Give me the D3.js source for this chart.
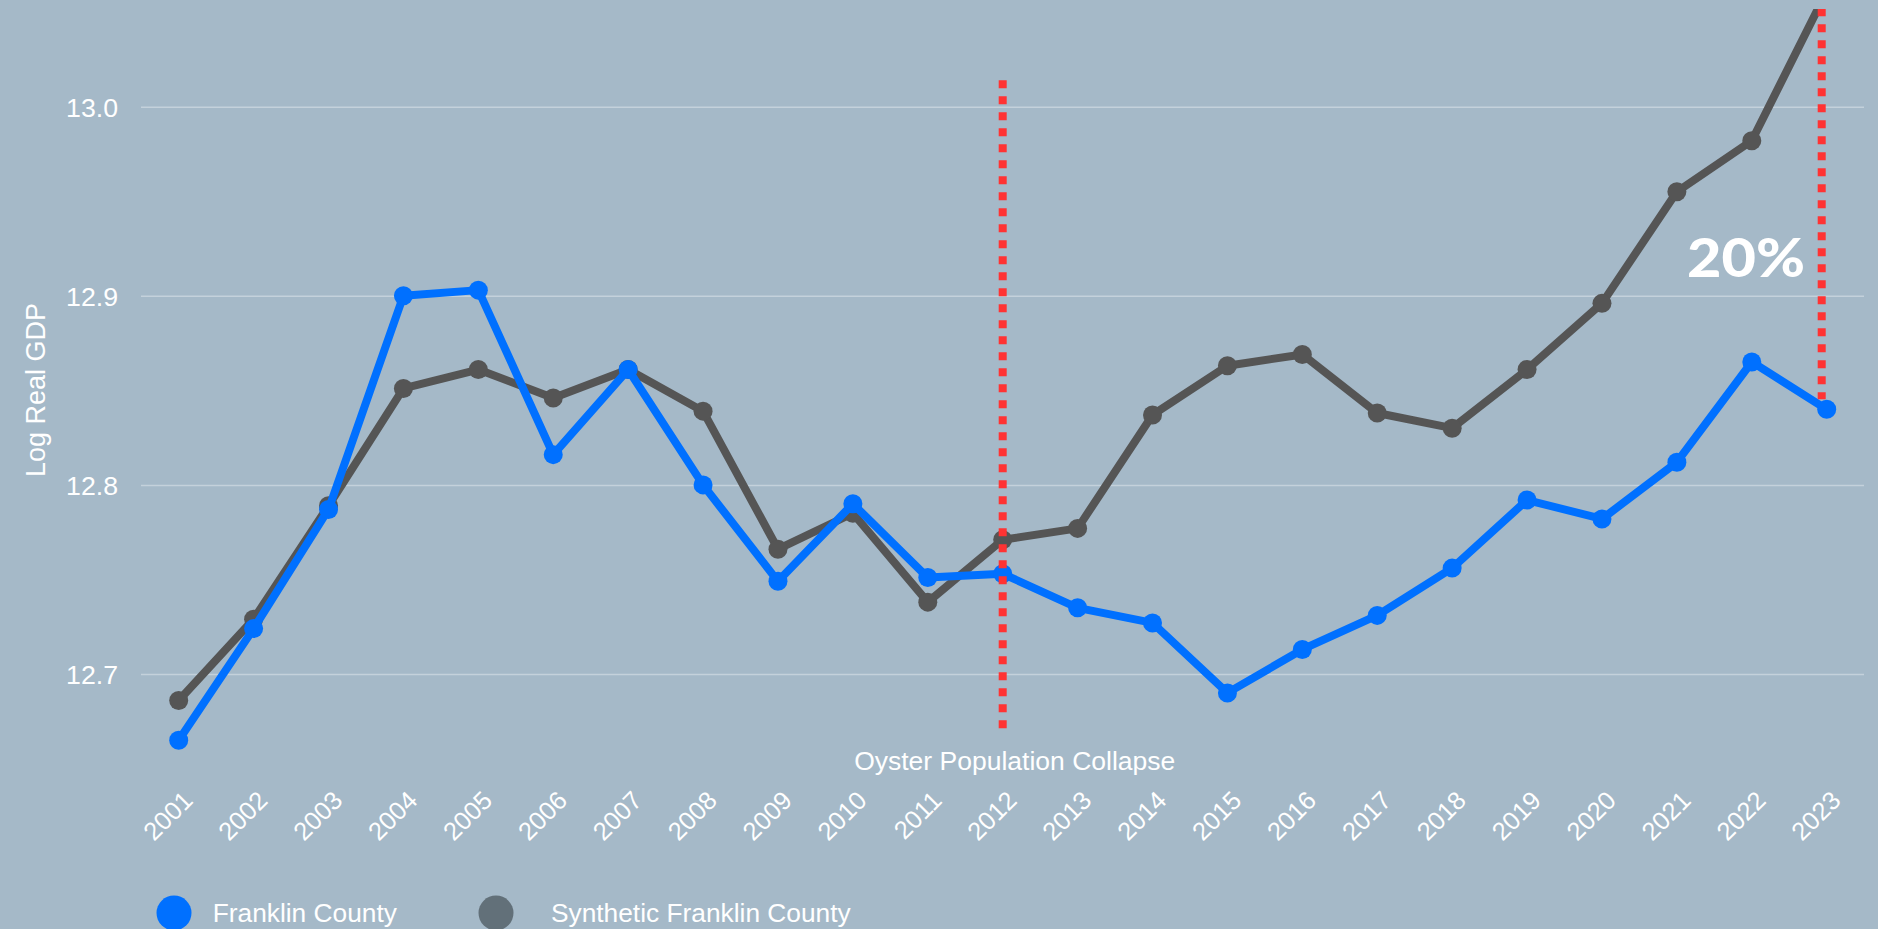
<!DOCTYPE html>
<html>
<head>
<meta charset="utf-8">
<script src="https://cdn.jsdelivr.net/npm/d3@7"></script>
<style>
  html, body { margin: 0; padding: 0; background: #a5b9c8; }
  svg { display: block; }
  text { font-family: "Liberation Sans", Arial, sans-serif; fill: #ffffff; }
</style>
</head>
<body>
<div class="chart"></div>
<script>
// data
var years = ["2001","2002","2003","2004","2005","2006","2007","2008","2009","2010","2011","2012",
             "2013","2014","2015","2016","2017","2018","2019","2020","2021","2022","2023"];
var franklin = [12.665, 12.724, 12.787, 12.900, 12.903, 12.816, 12.861, 12.800, 12.749, 12.790, 12.751, 12.753,
                12.735, 12.727, 12.690, 12.713, 12.731, 12.756, 12.792, 12.782, 12.812, 12.865, 12.840];
var synthetic = [12.686, 12.729, 12.789, 12.851, 12.861, 12.846, 12.861, 12.839, 12.766, 12.785, 12.738, 12.771,
                 12.777, 12.837, 12.863, 12.869, 12.838, 12.830, 12.861, 12.896, 12.955, 12.982, 13.061];
var yTicks = [12.7, 12.8, 12.9, 13.0];
var seriesNames = ["Franklin County", "Synthetic Franklin County"];
var collapseYear = "2012";
var collapseRange = [12.671, 13.014];
var gapLabel = "20%";

var svgWidth = 1878;
var svgHeight = 929;

var svg = d3.select(".chart")
            .append("svg")
            .attr("width", svgWidth)
            .attr("height", svgHeight);

svg.append("rect")
   .attr("width", svgWidth)
   .attr("height", svgHeight)
   .attr("fill", "#a5b9c8");

var x = d3.scalePoint().domain(years).range([178.7, 1826.7]);
var y = d3.scaleLinear().domain([12.7, 13.0]).range([674, 106.7]);

// gridlines
svg.append("g")
   .attr("class", "grid")
   .attr("transform", "translate(141,0)")
   .call(d3.axisLeft(y).tickValues(yTicks).tickSize(-(1864 - 141)).tickFormat(""))
   .call(function(g) {
     g.select(".domain").remove();
     g.selectAll("line").attr("stroke", "#c4d1db").attr("stroke-width", 1.5);
   });

// y axis labels
svg.append("g")
   .attr("transform", "translate(141,0)")
   .call(d3.axisLeft(y).tickValues(yTicks).tickSize(0).tickPadding(23).tickFormat(d3.format(".1f")))
   .call(function(g) {
     g.select(".domain").remove();
     g.selectAll("text")
      .attr("fill", "#ffffff")
      .style("font-size", "26.7px")
      .style("font-family", "'Liberation Sans', Arial, sans-serif")
      .attr("dy", "0.36em");
   });

svg.append("text")
   .attr("transform", "translate(45,390) rotate(-90)")
   .attr("text-anchor", "middle")
   .style("font-size", "27px")
   .text("Log Real GDP");

// x axis labels
svg.append("g")
   .attr("transform", "translate(0,802)")
   .call(d3.axisBottom(x).tickSize(0).tickPadding(0))
   .call(function(g) {
     g.select(".domain").remove();
     g.selectAll("text")
      .attr("fill", "#ffffff")
      .style("font-size", "25.5px")
      .style("font-family", "'Liberation Sans', Arial, sans-serif")
      .attr("text-anchor", "end")
      .attr("y", 0)
      .attr("dy", 0)
      .attr("transform", "translate(15,0) rotate(-45)");
   });

// clip for the plot
svg.append("clipPath")
   .attr("id", "plotClip")
   .append("rect")
   .attr("x", 0).attr("y", 9)
   .attr("width", svgWidth).attr("height", 900);

var plot = svg.append("g").attr("clip-path", "url(#plotClip)");

var line = d3.line()
             .x(function(d) { return x(d.year); })
             .y(function(d) { return y(d.value); });

function toPoints(vals) {
  return years.map(function(yr, i) { return { year: yr, value: vals[i] }; });
}

var series = [
  { name: seriesNames[1], values: toPoints(synthetic), color: "#555555" },
  { name: seriesNames[0], values: toPoints(franklin), color: "#0070ff" }
];

series.forEach(function(s) {
  plot.append("path")
      .datum(s.values)
      .attr("fill", "none")
      .attr("stroke", s.color)
      .attr("stroke-width", 8)
      .attr("stroke-linejoin", "round")
      .attr("d", line);
  plot.selectAll(null)
      .data(s.values)
      .enter().append("circle")
      .attr("cx", function(d) { return x(d.year); })
      .attr("cy", function(d) { return y(d.value); })
      .attr("r", 9.5)
      .attr("fill", s.color);
});

// annotation lines
plot.append("line")
    .attr("x1", x(collapseYear)).attr("x2", x(collapseYear))
    .attr("y1", y(collapseRange[1])).attr("y2", y(collapseRange[0]))
    .attr("stroke", "#ff3333")
    .attr("stroke-width", 8)
    .attr("stroke-dasharray", "8,8");

var last = years[years.length - 1];
plot.append("line")
    .attr("x1", x(last) - 5).attr("x2", x(last) - 5)
    .attr("y1", y(synthetic[synthetic.length - 1]) + 17)
    .attr("y2", y(franklin[franklin.length - 1]) - 10)
    .attr("stroke", "#ff3333")
    .attr("stroke-width", 8)
    .attr("stroke-dasharray", "8,8");

svg.append("text")
   .attr("x", x(collapseYear) + 12)
   .attr("y", 770)
   .attr("text-anchor", "middle")
   .style("font-size", "26.5px")
   .text("Oyster Population Collapse");

// gap label, widened to match the geometric face of the original
svg.append("text")
   .attr("transform", "translate(1805,277) scale(1.12,1)")
   .attr("text-anchor", "end")
   .style("font-family", "Lato, 'Open Sans', sans-serif")
   .style("font-weight", 900)
   .style("font-size", "53px")
   .text(gapLabel);

// legend
var legend = svg.append("g");
var legendItems = [
  { name: seriesNames[0], color: "#0070ff", cx: 174, tx: 212.7 },
  { name: seriesNames[1], color: "#627079", cx: 496, tx: 551 }
];
legendItems.forEach(function(d) {
  legend.append("circle")
        .attr("cx", d.cx).attr("cy", 913)
        .attr("r", 17.5)
        .attr("fill", d.color);
  legend.append("text")
        .attr("x", d.tx).attr("y", 922)
        .style("font-size", "26.3px")
        .text(d.name);
});
</script>
</body>
</html>
